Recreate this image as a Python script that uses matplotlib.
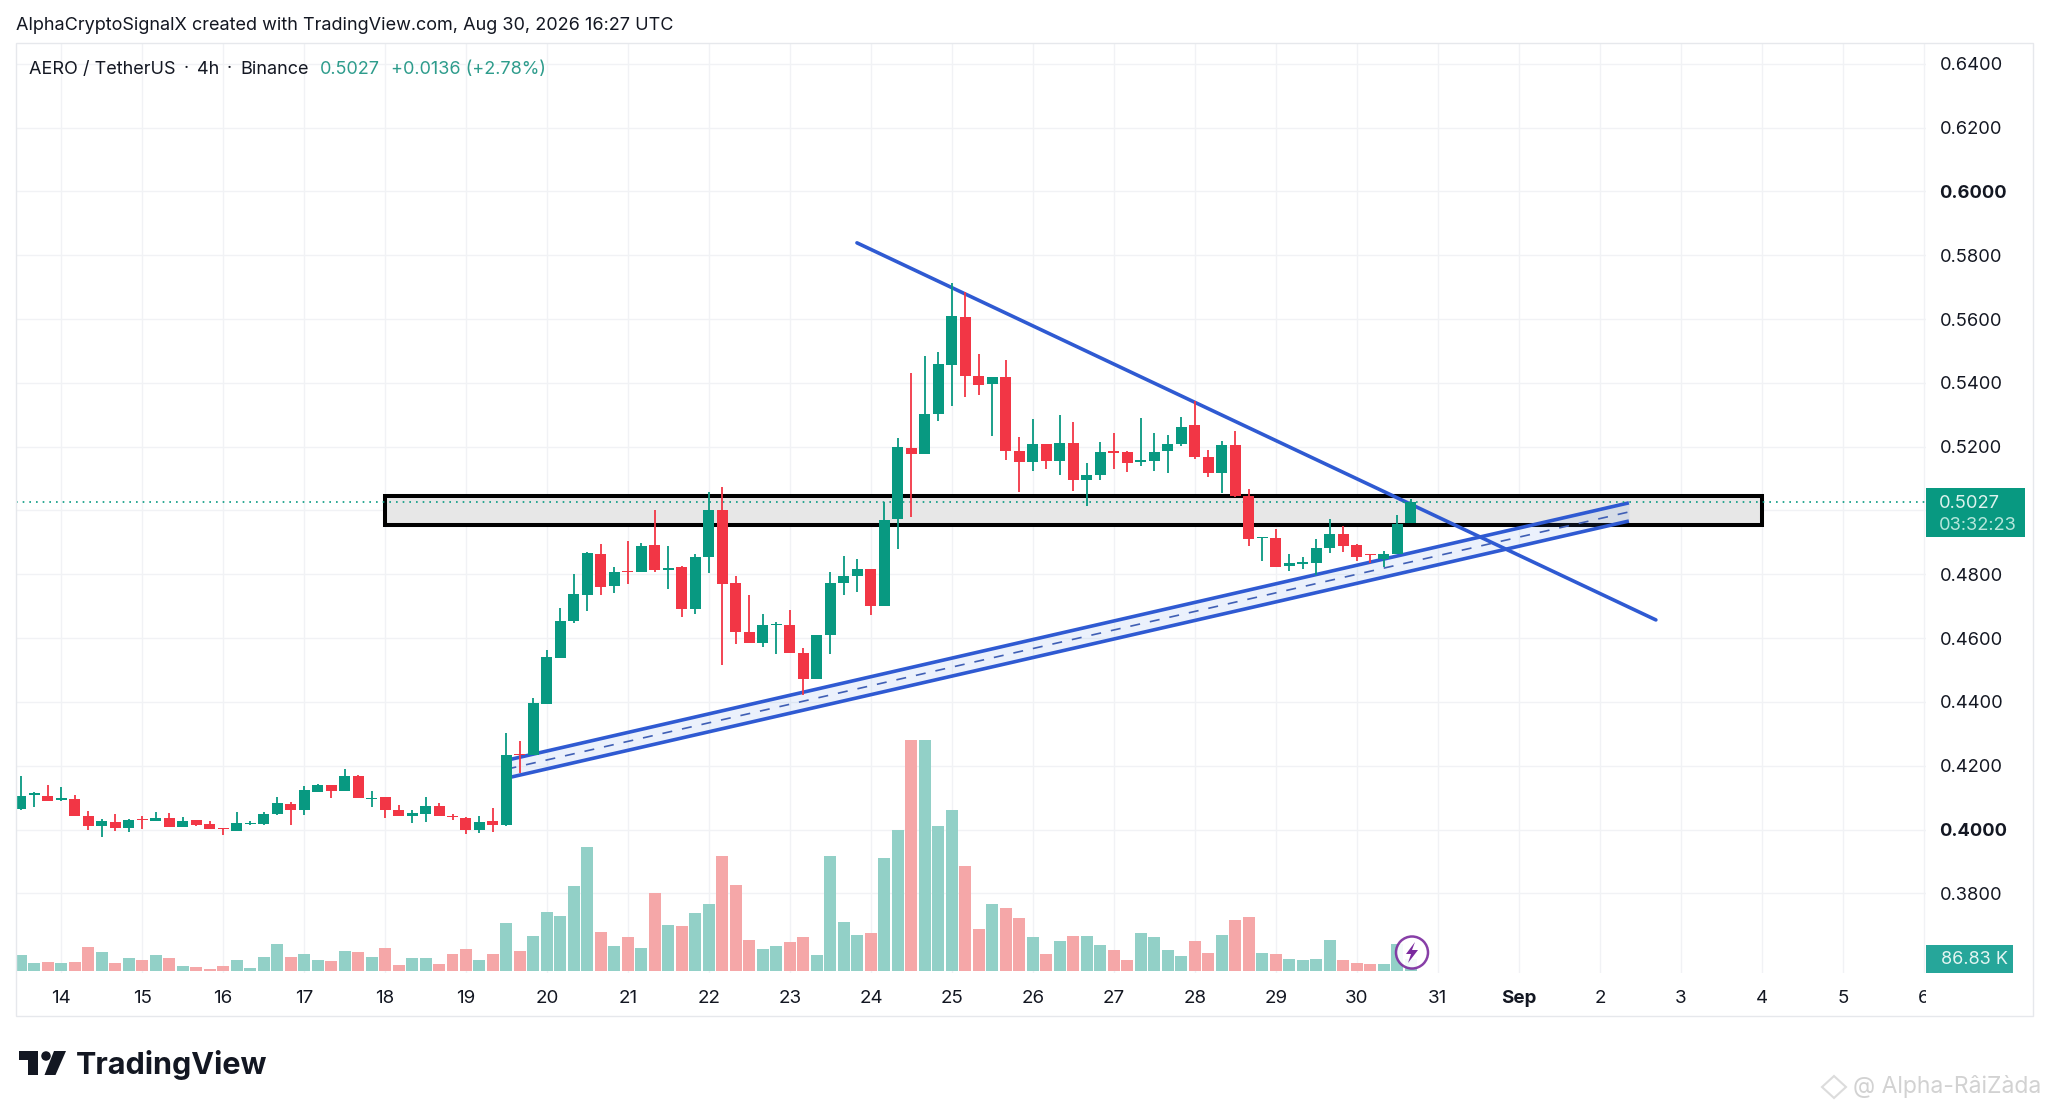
import matplotlib
matplotlib.use('Agg')
import matplotlib.pyplot as plt
from matplotlib.patches import Rectangle, Ellipse, Polygon
import numpy as np

plt.rcParams['font.family'] = ['Inter', 'DejaVu Sans']

# 4h candles
opens = [.4063, .4109, .4105, .4092, .4096, .4043, .4012, .4025, .4005, .4034,
         .4028, .4037, .4008, .4029, .4016, .4004, .3995, .4018, .4017, .4048,
         .4079, .4060, .4119, .4139, .4121, .4167, .4097, .4102, .4060, .4043,
         .4049, .4075, .4043, .4037, .3999, .4026, .4014, .4236, .4234, .4393,
         .4539, .4655, .4736, .4864, .4764, .4809, .4806, .4891, .4814, .4822,
         .4690, .4853, .5000, .4772, .4618, .4586, .4640, .4641, .4554, .4473,
         .4609, .4774, .4794, .4816, .4702, .4974, .5197, .5176, .5304, .5455,
         .5606, .5423, .5396, .5419, .5186, .5152, .5208, .5156, .5213, .5096,
         .5111, .5185, .5182, .5153, .5156, .5187, .5207, .5269, .5167, .5118,
         .5204, .5045, .4915, .4913, .4826, .4831, .4835, .4881, .4925, .4891,
         .4864, .4848, .4864, .4960]
highs = [.4168, .4118, .4140, .4133, .4107, .4059, .4032, .4049, .4033, .4041,
         .4056, .4051, .4040, .4030, .4026, .4004, .4054, .4028, .4056, .4103,
         .4085, .4137, .4142, .4140, .4190, .4171, .4121, .4103, .4076, .4060,
         .4101, .4083, .4049, .4038, .4041, .4067, .4302, .4279, .4413, .4563,
         .4693, .4800, .4870, .4895, .4824, .4903, .4897, .5002, .4888, .4827,
         .4864, .5059, .5075, .4796, .4735, .4676, .4652, .4688, .4568, .4611,
         .4806, .4858, .4847, .4816, .5028, .5226, .5432, .5484, .5498, .5714,
         .5684, .5491, .5418, .5472, .5231, .5286, .5210, .5300, .5276, .5148,
         .5214, .5242, .5188, .5291, .5242, .5236, .5294, .5343, .5189, .5219,
         .5249, .5066, .4918, .4941, .4864, .4855, .4910, .4972, .4952, .4895,
         .4864, .4873, .4986, .5035]
lows = [.4061, .4070, .4088, .4089, .4043, .3999, .3978, .3994, .3992, .4001,
        .4028, .4007, .4007, .4012, .4001, .3984, .3995, .4014, .4014, .4047,
        .4014, .4045, .4117, .4098, .4121, .4099, .4071, .4036, .4043, .4019,
        .4023, .4043, .4030, .3986, .3988, .3993, .4011, .4178, .4234, .4393,
        .4539, .4646, .4684, .4734, .4742, .4771, .4806, .4806, .4755, .4667,
        .4677, .4803, .4515, .4583, .4584, .4573, .4551, .4554, .4422, .4473,
        .4549, .4736, .4745, .4671, .4702, .4879, .4980, .5176, .5279, .5327,
        .5357, .5361, .5234, .5158, .5058, .5123, .5131, .5112, .5062, .5015,
        .5095, .5129, .5121, .5140, .5125, .5116, .5202, .5160, .5106, .5056,
        .5041, .4890, .4842, .4823, .4809, .4818, .4799, .4867, .4871, .4842,
        .4834, .4822, .4864, .4960]
closes = [.4105, .4113, .4090, .4098, .4043, .4012, .4027, .4005, .4031, .4031,
          .4035, .4008, .4028, .4015, .4001, .4001, .4020, .4021, .4050, .4082,
          .4060, .4124, .4140, .4122, .4167, .4099, .4100, .4060, .4043, .4052,
          .4075, .4043, .4038, .4000, .4025, .4014, .4233, .4232, .4398, .4540,
          .4654, .4737, .4867, .4761, .4806, .4806, .4889, .4812, .4821, .4690,
          .4853, .5000, .4770, .4618, .4586, .4641, .4644, .4554, .4472, .4609,
          .4774, .4795, .4817, .4700, .4971, .5200, .5176, .5303, .5458, .5609,
          .5421, .5393, .5418, .5186, .5151, .5208, .5156, .5213, .5095, .5112,
          .5182, .5181, .5148, .5157, .5184, .5209, .5263, .5169, .5119, .5206,
          .5045, .4912, .4918, .4823, .4835, .4838, .4883, .4925, .4889, .4854,
          .4860, .4863, .4959, .5028]
# volume in thousands
volumes = [117.6, 60, 67.2, 55.2, 67.2, 172.8, 134.4, 60, 96, 79.2,
           117.6, 91.2, 38.4, 31.2, 16.8, 38.4, 79.2, 21.6, 100.8, 196.8,
           100.8, 122.4, 81.6, 72, 146.4, 134.4, 100.8, 163.2, 43.2, 96,
           91.2, 52.8, 124.8, 158.4, 79.2, 124.8, 345.6, 146.4, 254.4, 424.8,
           396, 612, 895.2, 283.2, 180, 242.4, 168, 561.6, 328.8, 321.6,
           417.6, 484.8, 830.4, 616.8, 220.8, 158.4, 180, 208.8, 247.2, 117.6,
           830.4, 355.2, 259.2, 271.2, 816, 1015.2, 1665.6, 1660.8, 1046.4, 1161.6,
           753.6, 304.8, 484.8, 451.2, 384, 247.2, 122.4, 213.6, 254.4, 254.4,
           184.8, 151.2, 76.8, 276, 247.2, 151.2, 105.6, 213.6, 127.2, 259.2,
           367.2, 388.8, 129.6, 122.4, 88.8, 81.6, 88.8, 225.6, 81.6, 60,
           48, 52.8, 196.8, 86.83]

day_ticks = list(range(14, 38))
day_labels = [str(d) for d in range(14, 32)] + ['Sep', '2', '3', '4', '5', '6']
price_ticks = [0.38, 0.40, 0.42, 0.44, 0.46, 0.48, 0.50, 0.52, 0.54, 0.56, 0.58, 0.60, 0.62, 0.64]
# the 0.5000 label is hidden behind the last price tag
price_labels = ['' if p == 0.50 else '%.4f' % p for p in price_ticks]

# drawings: x in days (14 = Aug 14, 32 = Sep 1), y in price
zone_x = [18.0, 35.0]
zone_y = [0.4953, 0.5046]
resist_x = [23.827, 33.691]
resist_y = [0.5839, 0.4657]
chan_x = [19.5, 33.358]
chan_top = [0.4217, 0.5024]
chan_bot = [0.4161, 0.4967]
last_price = 0.5027

GREEN = '#089981'
RED = '#F23645'
VOL_GREEN = '#92D0C7'
VOL_RED = '#F5A7A8'
BLUE = '#2F5AD2'
GRID = '#F1F2F5'
INK = '#131722'
W, H = 2048, 1111


def px_rect(l, t, r, b):
    return [l / W, 1 - b / H, (r - l) / W, (b - t) / H]


fig = plt.figure(figsize=(W / 100, H / 100), dpi=100, facecolor='white')
ax = fig.add_axes(px_rect(16, 42.7, 1925.5, 973))
ax.set_zorder(1)
ax.set_xlim(13.444, 37.02)
ax.set_ylim(0.35502, 0.64664)

# candle x position in days, first candle sits three bars before the 14th
x = 14 + (np.arange(len(closes)) - 3) / 6
up = np.array(closes) >= np.array(opens)
colors = [GREEN if u else RED for u in up]

ax.set_axisbelow(True)
ax.grid(True, color=GRID, linewidth=1)
for s in ax.spines.values():
    s.set_visible(False)

vax = ax.twinx()
vax.set_ylim(-14.4, 6684)
vax.set_zorder(2)
vax.patch.set_visible(False)
vax.tick_params(right=False, labelright=False)
vax.grid(False)
for s in vax.spines.values():
    s.set_visible(False)
vol_colors = [VOL_GREEN if u else VOL_RED for u in up]
vax.bar(x, volumes, width=12 / 81, color=vol_colors, linewidth=0)

ax.yaxis.tick_right()
ax.set_yticks(price_ticks)
ax.set_yticklabels(price_labels, fontsize=13.2, color=INK)
ax.set_xticks(day_ticks)
ax.set_xticklabels(day_labels, fontsize=13.5, color=INK)
ax.tick_params(length=0, axis='y', pad=10)
ax.tick_params(length=0, axis='x', pad=12)
for lab in ax.get_yticklabels():
    if lab.get_text() in ('0.6000', '0.4000'):
        lab.set_fontweight('bold')
for lab in ax.get_xticklabels():
    if lab.get_text() == 'Sep':
        lab.set_fontweight('bold')

# zone, channel and trend line sit under the candles
ax.add_patch(Rectangle((zone_x[0], zone_y[0]), zone_x[1] - zone_x[0], zone_y[1] - zone_y[0],
                       facecolor='#E7E7E7', edgecolor='black', linewidth=2.9, zorder=3))
ax.fill_between(chan_x, chan_bot, chan_top, color='#4A86E8', alpha=0.11, linewidth=0, zorder=3.1)
ax.plot(chan_x, chan_top, color=BLUE, lw=2.6, zorder=3.2, solid_capstyle='butt')
ax.plot(chan_x, chan_bot, color=BLUE, lw=2.6, zorder=3.2, solid_capstyle='butt')
chan_mid = [(a + b) / 2 for a, b in zip(chan_top, chan_bot)]
ax.plot(chan_x, chan_mid, color='#3F5FB5', lw=1.2, ls=(0, (6, 6)), zorder=3.2)
ax.plot(resist_x, resist_y, color=BLUE, lw=2.6, zorder=3.3, solid_capstyle='round')
ax.axhline(last_price, color=GREEN, lw=1.2, ls=(0, (1, 3)), zorder=3.4)

ax.vlines(x, lows, highs, colors=colors, linewidth=1.3, zorder=4)
bottoms = np.minimum(opens, closes)
heights = np.abs(np.array(closes) - np.array(opens))
ax.bar(x, heights, bottom=bottoms, width=11 / 81, color=colors, linewidth=0, zorder=5)

# overlay in figure pixels for the tags, frame and branding
deco = fig.add_axes([0, 0, 1, 1], zorder=5)
deco.set_xlim(0, W)
deco.set_ylim(H, 0)
deco.axis('off')
deco.add_patch(Rectangle((1926, 974), 100, 40, facecolor='white', edgecolor='none'))
deco.add_patch(Rectangle((16, 42.7), 2016.5, 973.3, fill=False, edgecolor='#E6E8EC', lw=1))

deco.add_patch(Rectangle((1926, 488), 99, 49, facecolor=GREEN, edgecolor='none'))
deco.text(1939, 504, '0.5027', fontsize=13.2, color='#DDF3EE', va='center')
deco.text(1939, 526, '03:32:23', fontsize=13.2, color='#B5E6DB', va='center')
deco.add_patch(Rectangle((1926, 945), 87, 28, facecolor='#26A69A', edgecolor='none'))
deco.text(1941, 960, '86.83 K', fontsize=13, color='#E3F5F2', va='center')

deco.add_patch(Ellipse((1412, 952.5), 32, 32, facecolor='white', edgecolor='#7B2A9E', lw=1.8, alpha=0.9))
deco.add_patch(Polygon([(1415, 942), (1406, 954), (1411, 954), (1408, 963), (1418, 950), (1412, 950)],
                       facecolor='#7B2A9E', edgecolor='none'))

deco.text(16, 26, 'AlphaCryptoSignalX created with TradingView.com, Aug 30, 2026 16:27 UTC',
          fontsize=13, color=INK, va='center')
for tx, txt in [(29, 'AERO / TetherUS'), (184, '\u00b7'), (197, '4h'), (227, '\u00b7'), (240, 'Binance')]:
    deco.text(tx, 69, txt, fontsize=13, color=INK, va='center')
deco.text(320, 69, '0.5027', fontsize=13, color='#2E9C8C', va='center')
deco.text(391, 69, '+0.0136 (+2.78%)', fontsize=13, color='#2E9C8C', va='center')

# TradingView logo
deco.add_patch(Polygon([(19, 1051), (38, 1051), (38, 1075), (28, 1075), (28, 1060), (19, 1060)],
                       facecolor=INK, edgecolor='none'))
deco.add_patch(Ellipse((46, 1056), 9.5, 9.5, facecolor=INK, edgecolor='none'))
deco.add_patch(Polygon([(54, 1051), (66, 1051), (55.5, 1075), (44.5, 1075)],
                       facecolor=INK, edgecolor='none'))
deco.text(76, 1065, 'TradingView', fontsize=22, fontweight='bold', color=INK, va='center')

# watermark
deco.add_patch(Polygon([(1834, 1076), (1846, 1087), (1834, 1098), (1822, 1087)],
                       fill=False, edgecolor='#DCDCDC', lw=1.5))
deco.text(1853, 1087, '@ Alpha-R\u00e2iZ\u00e0da', fontsize=16.5, color='#D2D2D2', va='center')

fig.savefig('out.png', dpi=100)
